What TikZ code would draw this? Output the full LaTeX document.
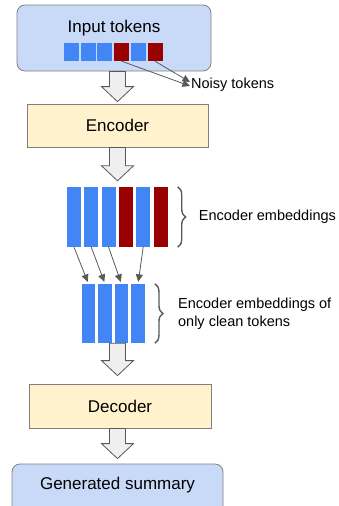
\documentclass[tikz,border=0pt]{standalone}
\usepackage{fontspec}
\setmainfont{Liberation Sans}
\usetikzlibrary{calc}
\usetikzlibrary{arrows.meta}
\usetikzlibrary{decorations.pathreplacing}
\usepackage{xcolor}

\definecolor{boxblue}{HTML}{C9DAF8}
\definecolor{boxyellow}{HTML}{FFF2CC}
\definecolor{tokblue}{HTML}{4285F4}
\definecolor{tokred}{HTML}{990000}
\definecolor{edgegray}{HTML}{808080}
\definecolor{arrgray}{HTML}{595959}
\definecolor{fatgray}{HTML}{EFEFEF}

\tikzset{
  bigfont/.style={font=\fontsize{17}{20}\selectfont},
  smallfont/.style={font=\fontsize{14.5}{18}\selectfont},
  roundbox/.style={draw=edgegray, fill=boxblue, rounded corners=8pt, line width=0.8pt},
  squarebox/.style={draw=edgegray, fill=boxyellow, line width=0.8pt},
  tok/.style={inner sep=0, minimum width=15pt, minimum height=18pt},
  bar/.style={inner sep=0, minimum width=14pt, minimum height=60pt},
  cbar/.style={inner sep=0, fill=tokblue, minimum width=13.5pt, minimum height=59pt},
  thinarr/.style={draw=arrgray, line width=0.8pt, -{Triangle[length=7.5pt,width=7pt]}},
  fatarr/.style={draw=arrgray, fill=fatgray, line width=0.8pt, line join=miter},
  bracket/.style={draw=arrgray, line width=1.4pt, decorate, decoration={brace, amplitude=8pt}},
}

% block arrow: #1 shaft start, #2 tip
\newcommand{\fatarrow}[2]{%
  \draw[fatarr] ($(#1)+(-8,0)$) -- ($(#2)+(-8,-15)$) -- ($(#2)+(-16,-15)$) -- (#2)
    -- ($(#2)+(16,-15)$) -- ($(#2)+(8,-15)$) -- ($(#1)+(8,0)$) -- cycle;}

\begin{document}
\begin{tikzpicture}[x=1pt,y=-1pt]
\clip (0,0) rectangle (338,506);

% boxes
\node[roundbox, minimum width=194pt, minimum height=66pt] (inbox) at (114,38) {};
\node[bigfont] (intext) at (114,28) {Input tokens};
\node[squarebox, minimum width=181pt, minimum height=43pt, bigfont] (enc) at (117.5,125.5) {Encoder};
\node[squarebox, minimum width=182pt, minimum height=44pt, bigfont] (dec) at (120,406) {Decoder};
\node[roundbox, minimum width=211pt, minimum height=60pt] (gen) at (117.5,494) {};
\node[bigfont] (gentext) at (117.5,485) {Generated summary};

% input tokens
\foreach \i/\c in {1/tokblue,2/tokblue,3/tokblue,4/tokred,5/tokblue,6/tokred}
  \node[tok, fill=\c] (t\i) at ({71.5+16.7*(\i-1)},52) {};
\node[smallfont, anchor=west, inner sep=1pt] (noisy) at (190,85) {Noisy tokens};
\draw[thinarr] (t4.south) -- ([yshift=-1pt]noisy.west);
\draw[thinarr] (t6.south) -- ([yshift=3pt]noisy.west);

% encoder embeddings
\foreach \i/\c in {1/tokblue,2/tokblue,3/tokblue,4/tokred,5/tokblue,6/tokred}
  \node[bar, fill=\c] (e\i) at ({74+17.3*(\i-1)},217) {};
\draw[bracket] ($(e6.north east)+(10,0)$) -- ($(e6.south east)+(10,0)$);
\node[smallfont, anchor=west, inner sep=1pt] (emblab) at ($(e6.east)+(30,0)$) {Encoder embeddings};

% clean embeddings
\foreach \i in {1,...,4}
  \node[cbar] (c\i) at ({88.5+16.5*(\i-1)},313.5) {};
\foreach \a/\b in {1/1,2/2,3/3,5/4}
  \draw[thinarr, shorten >=2pt] (e\a.south) -- (c\b.north);
\draw[bracket] ($(c4.north east)+(10,0)$) -- ($(c4.south east)+(10,0)$);
\node[smallfont, anchor=west, inner sep=1pt, align=left] (cleanlab) at ($(c4.east)+(32,0)$) {Encoder embeddings of\\only clean tokens};

% block arrows
\coordinate (tip1) at ($(enc.north)+(0,-2)$);
\coordinate (tip2) at ($(enc.south |- e1.north)+(0,-6)$);
\coordinate (tip3) at ($(enc.south |- dec.north)+(0,-8)$);
\coordinate (tip4) at ($(gen.north)+(0,-5)$);
\fatarrow{enc.north |- inbox.south}{tip1}
\fatarrow{enc.south}{tip2}
\fatarrow{enc.south |- c1.south}{tip3}
\fatarrow{enc.south |- dec.south}{tip4}
\end{tikzpicture}
\end{document}
